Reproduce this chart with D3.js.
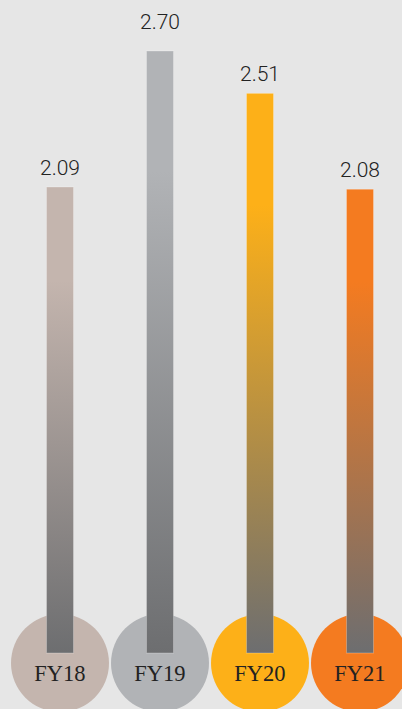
<!DOCTYPE html>
<html><head><meta charset="utf-8">
<script src="https://cdn.jsdelivr.net/npm/d3@7"></script>
<style>html,body{margin:0;padding:0;background:#e6e6e6;overflow:hidden}</style>
</head><body>
<svg id="chart" width="402" height="709"></svg>
<script>
const categories = ["FY18", "FY19", "FY20", "FY21"];
const values = [2.09, 2.70, 2.51, 2.08];
const valueLabels = ["2.09", "2.70", "2.51", "2.08"];
const colors = ["#c4b5ae", "#b1b3b6", "#fdb018", "#f47b20"];
const baseColor = "#6d6e70";

const W = 402, H = 709;
const svg = d3.select("#chart");
svg.append("rect").attr("width", W).attr("height", H).attr("fill", "#e6e6e6");

const x = d3.scaleBand().domain(categories).range([10, 410]).paddingInner(0).paddingOuter(0);
const y = d3.scaleLinear().domain([0, 2.70]).range([653, 51]);
const barW = 27;
const r = 49;
const data = categories.map((c, i) => ({cat: c, v: values[i], label: valueLabels[i], color: colors[i]}));
const maxV = d3.max(values);

const defs = svg.append("defs");
data.forEach((d, i) => {
  const g = defs.append("linearGradient").attr("id", "g" + i)
    .attr("x1", 0).attr("y1", 0).attr("x2", 0).attr("y2", 1);
  g.append("stop").attr("offset", 0).attr("stop-color", d.color);
  g.append("stop").attr("offset", 0.2).attr("stop-color", d.color);
  g.append("stop").attr("offset", 1).attr("stop-color", baseColor);
});

const cx = d => x(d.cat) + x.bandwidth() / 2;

svg.selectAll("circle.base").data(data).join("circle")
  .attr("class", "base")
  .attr("cx", cx).attr("cy", 663).attr("r", r)
  .attr("fill", d => d.color);

svg.selectAll("rect.bar").data(data).join("rect")
  .attr("class", "bar")
  .attr("x", d => cx(d) - barW / 2)
  .attr("y", d => y(d.v))
  .attr("width", barW)
  .attr("height", d => y(0) - y(d.v))
  .attr("fill", (d, i) => `url(#g${i})`)
  .attr("stroke", "rgba(255,255,255,0.25)")
  .attr("stroke-width", 1);

svg.selectAll("text.val").data(data).join("text")
  .attr("class", "val")
  .attr("x", cx)
  .attr("y", d => y(d.v) - (d.v === maxV ? 22 : 12))
  .attr("text-anchor", "middle")
  .attr("font-family", "Roboto, 'Liberation Sans', Arial, sans-serif")
  .attr("font-weight", 300)
  .attr("font-size", 21)
  .attr("fill", "#222")
  .text(d => d.label);

svg.selectAll("text.cat").data(data).join("text")
  .attr("class", "cat")
  .attr("x", cx)
  .attr("y", 681)
  .attr("text-anchor", "middle")
  .attr("font-family", "'Liberation Serif', 'DejaVu Serif', serif")
  .attr("font-size", 22.5)
  .attr("fill", "#222")
  .text(d => d.cat);
</script>
</body></html>
